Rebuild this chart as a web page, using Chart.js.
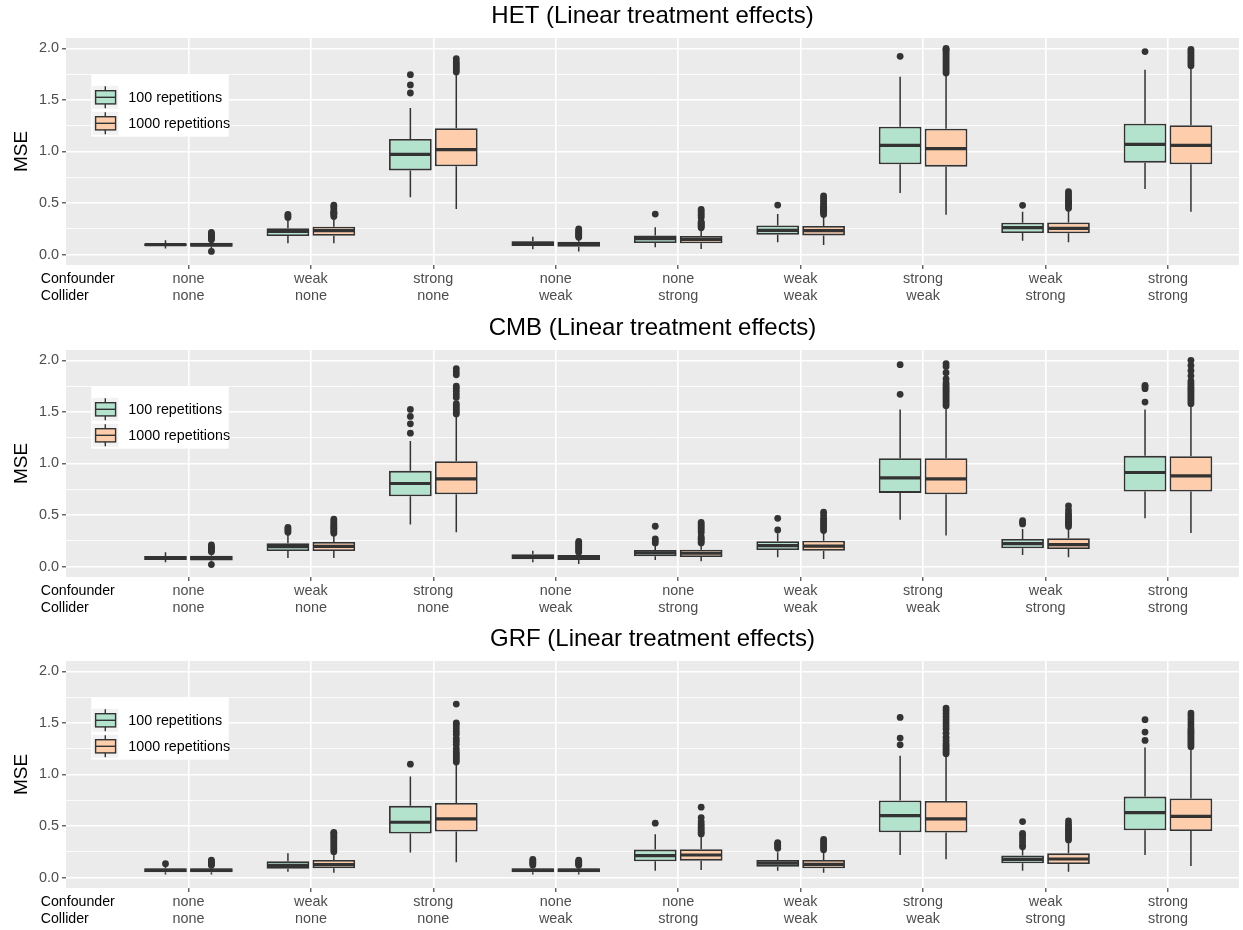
<!DOCTYPE html>
<html>
<head>
<meta charset="utf-8">
<title>MSE by confounder / collider strength</title>
<script src="https://cdn.jsdelivr.net/npm/chart.js@4.4.1/dist/chart.umd.min.js"></script>
<style>
  body { margin: 0; background: #ffffff; }
  .panel { position: absolute; left: 0; width: 1243px; height: 307px; }
</style>
</head>
<body>
<div class="panel" style="top:0px"><canvas id="het" width="1243" height="307"></canvas></div>
<div class="panel" style="top:312px"><canvas id="cmb" width="1243" height="307"></canvas></div>
<div class="panel" style="top:623px"><canvas id="grf" width="1243" height="307"></canvas></div>
<script>
// settings on the x axis
const confounder = ['none', 'weak', 'strong', 'none', 'none', 'weak', 'strong', 'weak', 'strong'];
const collider   = ['none', 'none', 'none', 'weak', 'strong', 'weak', 'weak', 'strong', 'strong'];
const rowNames = ['Confounder', 'Collider'];
const groups = ['100 repetitions', '1000 repetitions'];
const mseTicks = [0, 0.25, 0.5, 0.75, 1, 1.25, 1.5, 1.75, 2];

// box stats per setting: [lower whisker, q1, median, q3, upper whisker]
const het100 = [
  [0.06, 0.085, 0.097, 0.11, 0.14],
  [0.11, 0.181, 0.226, 0.255, 0.33],
  [0.556, 0.817, 0.973, 1.121, 1.422],
  [0.052, 0.085, 0.11, 0.13, 0.174],
  [0.071, 0.113, 0.155, 0.187, 0.265],
  [0.12, 0.194, 0.236, 0.284, 0.394],
  [0.598, 0.876, 1.06, 1.241, 1.725],
  [0.136, 0.21, 0.262, 0.31, 0.417],
  [0.636, 0.892, 1.069, 1.27, 1.793]
];
const het1000 = [
  [0.05, 0.078, 0.095, 0.115, 0.135],
  [0.11, 0.184, 0.233, 0.271, 0.346],
  [0.443, 0.856, 1.018, 1.225, 1.745],
  [0.032, 0.078, 0.1, 0.126, 0.16],
  [0.055, 0.11, 0.149, 0.181, 0.25],
  [0.094, 0.187, 0.233, 0.278, 0.378],
  [0.388, 0.853, 1.027, 1.221, 1.745],
  [0.12, 0.207, 0.255, 0.313, 0.433],
  [0.417, 0.876, 1.06, 1.254, 1.816]
];
const het100Out = [
  [], [0.36, 0.375, 0.39], [1.567, 1.645, 1.745], [], [0.394], [0.481], [1.922], [0.478], [1.968]
];
const het1000Out = [
  [0.032, 0.145, 0.155, 0.165, 0.175, 0.185, 0.195, 0.205, 0.215],
  [0.37, 0.39, 0.4, 0.41, 0.42, 0.445, 0.465, 0.48],
  [1.77, 1.79, 1.81, 1.83, 1.85, 1.87, 1.9],
  [0.17, 0.18, 0.19, 0.2, 0.21, 0.22, 0.235, 0.25],
  [0.26, 0.27, 0.28, 0.29, 0.3, 0.31, 0.32, 0.36, 0.38, 0.4, 0.42, 0.44],
  [0.39, 0.41, 0.42, 0.43, 0.44, 0.45, 0.46, 0.47, 0.49, 0.51, 0.53, 0.55, 0.57],
  [1.76, 1.78, 1.8, 1.82, 1.84, 1.86, 1.88, 1.9, 1.92, 1.94, 1.96, 1.98, 1.99, 2.0],
  [0.45, 0.47, 0.49, 0.5, 0.51, 0.52, 0.53, 0.55, 0.57, 0.59, 0.61],
  [1.83, 1.85, 1.87, 1.89, 1.91, 1.93, 1.95, 1.97, 1.99]
];

const cmb100 = [
  [0.042, 0.065, 0.084, 0.104, 0.139],
  [0.084, 0.152, 0.194, 0.227, 0.317],
  [0.408, 0.683, 0.806, 0.929, 1.217],
  [0.042, 0.071, 0.094, 0.12, 0.155],
  [0.065, 0.1, 0.133, 0.162, 0.204],
  [0.091, 0.162, 0.204, 0.246, 0.324],
  [0.456, 0.715, 0.861, 1.052, 1.524],
  [0.113, 0.178, 0.223, 0.269, 0.366],
  [0.469, 0.728, 0.913, 1.074, 1.524]
];
const cmb1000 = [
  [0.042, 0.061, 0.084, 0.107, 0.135],
  [0.084, 0.152, 0.197, 0.239, 0.31],
  [0.333, 0.702, 0.851, 1.023, 1.46],
  [0.026, 0.065, 0.087, 0.113, 0.135],
  [0.052, 0.094, 0.13, 0.165, 0.22],
  [0.074, 0.155, 0.2, 0.252, 0.333],
  [0.301, 0.702, 0.851, 1.052, 1.547],
  [0.091, 0.172, 0.214, 0.275, 0.382],
  [0.327, 0.728, 0.88, 1.071, 1.563]
];
const cmb100Out = [
  [], [0.333, 0.35, 0.365, 0.38], [1.294, 1.385, 1.456, 1.524], [], [0.23, 0.25, 0.27, 0.392],
  [0.356, 0.469], [1.67, 1.958], [0.414, 0.43, 0.445], [1.595, 1.725, 1.745, 1.757]
];
const cmb1000Out = [
  [0.02, 0.145, 0.155, 0.165, 0.175, 0.185, 0.195, 0.21],
  [0.325, 0.34, 0.355, 0.37, 0.385, 0.4, 0.42, 0.44, 0.46],
  [1.48, 1.5, 1.52, 1.54, 1.56, 1.58, 1.64, 1.67, 1.7, 1.73, 1.75, 1.86, 1.89, 1.92],
  [0.14, 0.155, 0.17, 0.185, 0.2, 0.215, 0.23, 0.245],
  [0.23, 0.245, 0.26, 0.275, 0.29, 0.33, 0.35, 0.37, 0.39, 0.41, 0.43],
  [0.35, 0.37, 0.39, 0.41, 0.43, 0.45, 0.47, 0.5, 0.528],
  [1.56, 1.58, 1.6, 1.62, 1.64, 1.66, 1.68, 1.7, 1.72, 1.74, 1.76, 1.78, 1.82, 1.88, 1.94, 1.968],
  [0.39, 0.41, 0.42, 0.43, 0.44, 0.46, 0.48, 0.5, 0.52, 0.55, 0.59],
  [1.58, 1.6, 1.62, 1.64, 1.66, 1.68, 1.7, 1.72, 1.74, 1.76, 1.78, 1.8, 1.85, 1.9, 1.95, 2.0]
];

const grf100 = [
  [0.032, 0.052, 0.071, 0.091, 0.107],
  [0.058, 0.087, 0.12, 0.159, 0.236],
  [0.243, 0.427, 0.537, 0.696, 0.98],
  [0.032, 0.052, 0.071, 0.091, 0.107],
  [0.068, 0.159, 0.214, 0.272, 0.421],
  [0.068, 0.107, 0.142, 0.172, 0.246],
  [0.22, 0.44, 0.602, 0.748, 1.181],
  [0.068, 0.139, 0.178, 0.214, 0.285],
  [0.22, 0.46, 0.631, 0.786, 1.262]
];
const grf1000 = [
  [0.032, 0.052, 0.071, 0.091, 0.11],
  [0.049, 0.091, 0.126, 0.172, 0.236],
  [0.149, 0.447, 0.57, 0.725, 1.11],
  [0.032, 0.052, 0.071, 0.091, 0.11],
  [0.074, 0.165, 0.22, 0.275, 0.414],
  [0.049, 0.091, 0.129, 0.172, 0.26],
  [0.178, 0.437, 0.57, 0.744, 1.191],
  [0.058, 0.133, 0.181, 0.236, 0.35],
  [0.113, 0.453, 0.595, 0.767, 1.256]
];
const grf100Out = [
  [0.136], [], [1.1], [0.123, 0.135, 0.15, 0.165, 0.178], [0.528],
  [0.285, 0.3, 0.315, 0.33, 0.34], [1.288, 1.353, 1.553],
  [0.3, 0.32, 0.35, 0.38, 0.41, 0.43, 0.544], [1.33, 1.411, 1.531]
];
const grf1000Out = [
  [0.12, 0.13, 0.14, 0.15, 0.16, 0.17],
  [0.252, 0.27, 0.29, 0.31, 0.33, 0.35, 0.37, 0.39, 0.41, 0.43, 0.44],
  [1.12, 1.14, 1.16, 1.18, 1.2, 1.22, 1.25, 1.29, 1.32, 1.35, 1.39, 1.42, 1.45, 1.48, 1.5, 1.683],
  [0.12, 0.13, 0.14, 0.15, 0.16, 0.17],
  [0.424, 0.44, 0.46, 0.48, 0.5, 0.52, 0.544, 0.583, 0.683],
  [0.27, 0.29, 0.31, 0.33, 0.35, 0.37],
  [1.2, 1.22, 1.24, 1.26, 1.28, 1.3, 1.33, 1.36, 1.4, 1.44, 1.47, 1.5, 1.53, 1.56, 1.59, 1.62, 1.644],
  [0.366, 0.38, 0.4, 0.42, 0.44, 0.46, 0.48, 0.5, 0.52, 0.55],
  [1.27, 1.29, 1.31, 1.33, 1.35, 1.37, 1.39, 1.41, 1.43, 1.45, 1.48, 1.51, 1.54, 1.57, 1.595]
];

const fillColors = ['#B3E2CD', '#FDCDAC'];
const lineColor = '#333333';
const dodge = 0.1875;
const fontFamily = "'Liberation Sans', Arial, Helvetica, sans-serif";

Chart.defaults.font.family = fontFamily;

const isMajor = v => Math.abs(v * 2 - Math.round(v * 2)) < 1e-9;

// grey panel behind the grid
const panelBackground = {
  id: 'panelBackground',
  beforeDraw(chart) {
    const { ctx, chartArea: a } = chart;
    ctx.save();
    ctx.fillStyle = '#EBEBEB';
    ctx.fillRect(a.left, a.top, a.right - a.left, a.bottom - a.top);
    ctx.restore();
  }
};

// whiskers under the boxes, medians on top
function boxLines(stats) {
  return {
    id: 'boxLines',
    beforeDatasetsDraw(chart) {
      const { ctx } = chart;
      const y = chart.scales.y;
      ctx.save();
      ctx.strokeStyle = lineColor;
      ctx.lineWidth = 1.5;
      stats.forEach((rows, g) => {
        const meta = chart.getDatasetMeta(g);
        rows.forEach((s, i) => {
          const el = meta.data[i];
          ctx.beginPath();
          ctx.moveTo(el.x, y.getPixelForValue(s[4]));
          ctx.lineTo(el.x, y.getPixelForValue(s[3]));
          ctx.moveTo(el.x, y.getPixelForValue(s[1]));
          ctx.lineTo(el.x, y.getPixelForValue(s[0]));
          ctx.stroke();
        });
      });
      ctx.restore();
    },
    afterDatasetsDraw(chart) {
      const { ctx } = chart;
      const y = chart.scales.y;
      ctx.save();
      ctx.strokeStyle = lineColor;
      ctx.lineWidth = 3.2;
      stats.forEach((rows, g) => {
        const meta = chart.getDatasetMeta(g);
        rows.forEach((s, i) => {
          const el = meta.data[i];
          const py = y.getPixelForValue(s[2]);
          ctx.beginPath();
          ctx.moveTo(el.x - el.width / 2 + 1, py);
          ctx.lineTo(el.x + el.width / 2 - 1, py);
          ctx.stroke();
        });
      });
      ctx.restore();
    }
  };
}

// legend box inside the panel plus the row names under the y axis
const panelAnnotations = {
  id: 'panelAnnotations',
  afterDraw(chart) {
    const { ctx, chartArea: a } = chart;
    ctx.save();
    const lx = a.left + 25.3, ly = a.top + 36;
    ctx.fillStyle = '#FFFFFF';
    ctx.fillRect(lx, ly, 137.5, 62.7);
    groups.forEach((name, g) => {
      const cy = ly + 23.3 + g * 26;
      const kx = lx + 1;
      ctx.fillStyle = '#F2F2F2';
      ctx.fillRect(kx, cy - 11.5, 26, 23);
      ctx.strokeStyle = lineColor;
      ctx.lineWidth = 1.4;
      ctx.beginPath();
      ctx.moveTo(kx + 13, cy - 11);
      ctx.lineTo(kx + 13, cy + 11);
      ctx.stroke();
      ctx.fillStyle = fillColors[g];
      ctx.fillRect(kx + 3.3, cy - 6.6, 20, 13.2);
      ctx.strokeRect(kx + 3.3, cy - 6.6, 20, 13.2);
      ctx.beginPath();
      ctx.moveTo(kx + 3.3, cy);
      ctx.lineTo(kx + 23.3, cy);
      ctx.stroke();
      ctx.fillStyle = '#000000';
      ctx.font = '14.3px ' + fontFamily;
      ctx.textAlign = 'left';
      ctx.textBaseline = 'middle';
      ctx.fillText(name, lx + 37, cy + 1.2);
    });
    ctx.font = '14.2px ' + fontFamily;
    ctx.fillStyle = '#000000';
    ctx.textAlign = 'left';
    ctx.textBaseline = 'middle';
    rowNames.forEach((name, r) => {
      ctx.fillText(name, 40.7, a.bottom + 5 + 8.64 + r * 17.28);
    });
    ctx.restore();
  }
};

function makePanel(id, title, s100, s1000, o100, o1000) {
  const stats = [s100, s1000];
  const outs = [o100, o1000];
  const bars = stats.map((rows, g) => ({
    type: 'bar',
    label: groups[g],
    data: rows.map((s, i) => ({ x: i + 1 + (g === 0 ? -dodge : dodge), y: [s[1], s[3]] })),
    backgroundColor: fillColors[g],
    borderColor: lineColor,
    borderWidth: 1.8,
    borderSkipped: false,
    grouped: false,
    categoryPercentage: 1,
    barPercentage: 0.93
  }));
  const dots = outs.map((rows, g) => ({
    type: 'scatter',
    label: groups[g] + ' outliers',
    data: rows.flatMap((vals, i) => vals.map(v => ({ x: i + 1 + (g === 0 ? -dodge : dodge), y: v }))),
    pointRadius: 3.4,
    pointBackgroundColor: lineColor,
    pointBorderWidth: 0
  }));

  return new Chart(document.getElementById(id), {
    type: 'bar',
    data: { datasets: bars.concat(dots) },
    options: {
      responsive: false,
      animation: false,
      events: [],
      layout: { padding: 0 },
      scales: {
        x: {
          type: 'linear',
          min: 0,
          max: 9.58,
          offset: false,
          afterBuildTicks: s => { s.ticks = confounder.map((c, i) => ({ value: i + 1 })); },
          afterFit: s => { s.height = 42; },
          ticks: {
            callback: (v, i) => [confounder[i], collider[i]],
            color: '#4D4D4D',
            font: { size: 14.4 },
            padding: 1,
            maxRotation: 0,
            autoSkip: false
          },
          grid: { offset: false, color: '#FFFFFF', lineWidth: 1.6, tickColor: lineColor, tickLength: 4, tickWidth: 1.1 },
          border: { display: false }
        },
        y: {
          min: -0.1,
          max: 2.1,
          afterBuildTicks: s => { s.ticks = mseTicks.map(v => ({ value: v })); },
          afterFit: s => { s.width = 66; },
          ticks: {
            callback: v => isMajor(v) ? v.toFixed(1) : '',
            color: '#4D4D4D',
            font: { size: 14.4 },
            padding: 3
          },
          grid: {
            color: '#FFFFFF',
            lineWidth: c => isMajor(c.tick.value) ? 1.6 : 0.8,
            tickColor: c => isMajor(c.tick.value) ? lineColor : 'rgba(0,0,0,0)',
            tickLength: 4,
            tickWidth: 1.1
          },
          border: { display: false },
          title: { display: true, text: 'MSE', color: '#000000', font: { size: 19 }, padding: { top: 10, bottom: 0 } }
        }
      },
      plugins: {
        title: {
          display: true,
          text: title,
          color: '#000000',
          fullSize: false,
          font: { size: 24, weight: 'normal' },
          padding: { top: 2.4, bottom: 6.8 }
        },
        legend: { display: false },
        tooltip: { enabled: false }
      }
    },
    plugins: [panelBackground, boxLines(stats), panelAnnotations]
  });
}

makePanel('het', 'HET (Linear treatment effects)', het100, het1000, het100Out, het1000Out);
makePanel('cmb', 'CMB (Linear treatment effects)', cmb100, cmb1000, cmb100Out, cmb1000Out);
makePanel('grf', 'GRF (Linear treatment effects)', grf100, grf1000, grf100Out, grf1000Out);
</script>
</body>
</html>
